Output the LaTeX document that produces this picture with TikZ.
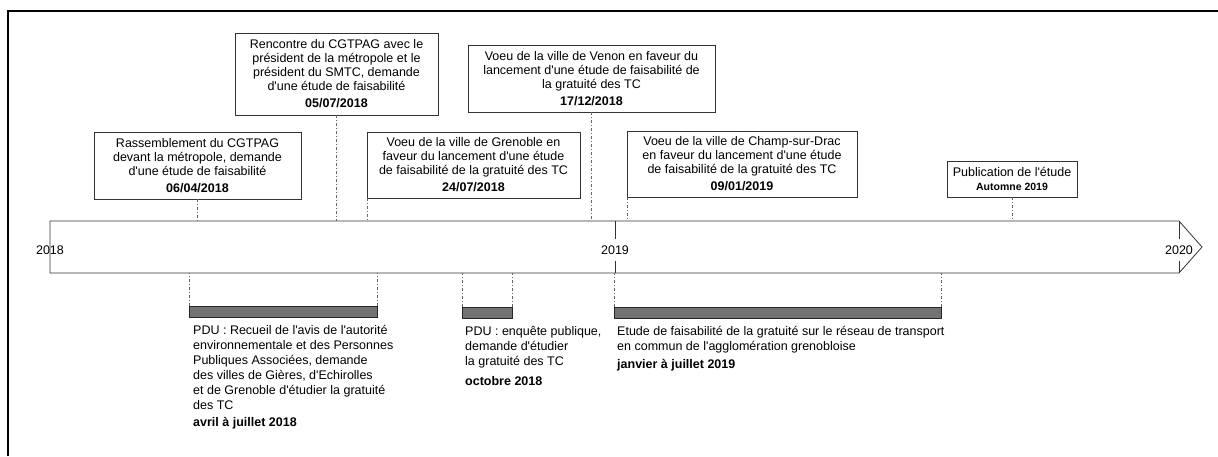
\documentclass[tikz,border=0pt]{standalone}
\usepackage{fontspec}
\setmainfont{Liberation Sans}[Ligatures=ResetAll]
\usetikzlibrary{positioning}
\newcommand{\apos}{\textquotesingle}

\begin{document}
\begin{tikzpicture}[x=1pt, y=-1pt,
  event/.style={draw=black!80, line width=0.8pt, fill=white, align=center,
    inner sep=2pt, outer sep=0pt, font=\fontsize{12.5}{14}\selectfont},
  period/.style={draw=black!85, line width=0.8pt, fill=black!55,
    minimum height=11pt, inner sep=0pt, outer sep=0pt, anchor=north west},
  caption/.style={align=left, inner sep=0pt, anchor=north west,
    font=\fontsize{12.5}{15}\selectfont},
  guide/.style={black!60, line width=0.6pt, dash pattern=on 3pt off 2pt on 1pt off 2pt},
  year/.style={inner xsep=0pt, inner ysep=6pt, font=\fontsize{12.5}{14}\selectfont}]
\useasboundingbox (0,0) rectangle (1218,456);

% frame
\draw[line width=1.6pt] (8,456) -- (8,11) -- (1218,11);

% time axis
\coordinate (tltop) at (0,221);
\coordinate (tlbot) at (0,273);
\draw[draw=black!80, line width=0.8pt, fill=white]
  (50,221) -- (1179,221) -- (1202,247) -- (1179,273) -- (50,273) -- cycle;
\node[year] (y18) at (50,250) {2018};
\node[year] (y19) at (615,250) {2019};
\node[year] (y20) at (1179,250) {2020};
\foreach \y in {y19,y20}
{
  \draw[black!80, line width=0.8pt] (\y.north) -- (\y.north |- tltop);
  \draw[black!80, line width=0.8pt] (\y.south) -- (\y.south |- tlbot);
}

% events above the axis
\node[event, minimum width=207pt, minimum height=67pt] (rass) at (197.5,165.5)
  {Rassemblement du CGTPAG\\devant la métropole, demande\\d\apos une étude de faisabilité\\[3pt]\textbf{06/04/2018}};
\node[event, minimum width=203pt, minimum height=82pt] (renc) at (336.5,74)
  {Rencontre du CGTPAG avec le\\président de la métropole et le\\président du SMTC, demande\\d\apos une étude de faisabilité\\[3pt]\textbf{05/07/2018}};
\node[event, minimum width=213pt, minimum height=66pt] (gren) at (473.5,165)
  {Voeu de la ville de Grenoble en\\faveur du lancement d\apos une étude\\de faisabilité de la gratuité des TC\\[3pt]\textbf{24/07/2018}};
\node[event, minimum width=247pt, minimum height=67pt] (venon) at (591.5,78.5)
  {Voeu de la ville de Venon en faveur du\\lancement d\apos une étude de faisabilité de\\la gratuité des TC\\[3pt]\textbf{17/12/2018}};
\node[event, minimum width=230pt, minimum height=66pt] (champ) at (742,164)
  {Voeu de la ville de Champ-sur-Drac\\en faveur du lancement d\apos une étude\\de faisabilité de la gratuité des TC\\[3pt]\textbf{09/01/2019}};
\node[event, minimum width=130pt, minimum height=36pt] (publi) at (1012,179)
  {Publication de l\apos étude\\{\fontsize{10.5}{12}\selectfont\textbf{Automne 2019}}};

\foreach \n/\a in {rass/south, renc/south, gren/south west, venon/south, champ/south west, publi/south}
  \draw[guide] (\n.\a) -- (\n.\a |- tltop);

% periods below the axis
\node[period, minimum width=188pt] (pdua) at (189,306) {};
\node[period, minimum width=50pt] (pdub) at (462,307) {};
\node[period, minimum width=327pt] (etude) at (614,307) {};

\foreach \n in {pdua,pdub,etude}
{
  \draw[guide] (\n.north west) -- (\n.north west |- tlbot);
  \draw[guide] (\n.north east) -- (\n.north east |- tlbot);
}

\node[caption, below right=8pt and 4pt of pdua.south west]
  {PDU : Recueil de l\apos avis de l\apos autorité\\environnementale et des Personnes\\Publiques Associées, demande\\des villes de Gières, d\apos Echirolles\\et de Grenoble d\apos étudier la gratuité\\des TC\\[2pt]\textbf{avril à juillet 2018}};
\node[caption, below right=8pt and 3pt of pdub.south west]
  {PDU : enquête publique,\\demande d\apos étudier\\la gratuité des TC\\[5pt]\textbf{octobre 2018}};
\node[caption, below right=8pt and 3pt of etude.south west]
  {Etude de faisabilité de la gratuité sur le réseau de transport\\en commun de l\apos agglomération grenobloise\\[3pt]\textbf{janvier à juillet 2019}};
\end{tikzpicture}
\end{document}
